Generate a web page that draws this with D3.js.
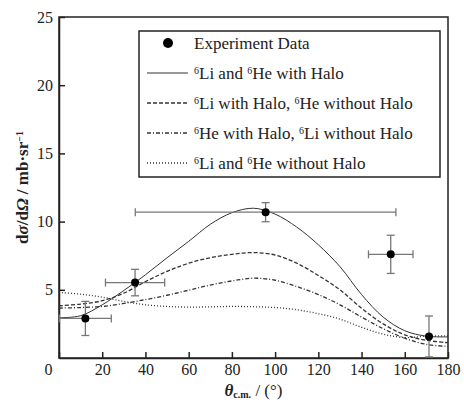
<!DOCTYPE html>
<meta charset="utf-8">
<style>
body { margin: 0; background: #fff; }
text { fill: #222; }
.axis path, .axis line { stroke: #222; stroke-width: 1.5px; }
</style>
<svg width="464" height="402"></svg>
<script src="https://cdn.jsdelivr.net/npm/d3@7"></script>
<script>

// angle grid of the calculated curves
var theta = [0, 10, 20, 30, 40, 50, 60, 70, 80, 90, 100, 110, 120, 130, 140, 150, 160, 170, 180];

var bothHalo   = [2.95, 3.1, 3.9, 4.95, 6.1, 7.35, 8.55, 9.8, 10.65, 10.98, 10.55, 9.6, 8.3, 6.7, 4.65, 3.0, 2.0, 1.6, 1.55];
var liHalo     = [3.83, 3.95, 4.2, 4.75, 5.6, 6.35, 6.95, 7.35, 7.6, 7.73, 7.55, 6.95, 6.05, 5.0, 3.65, 2.5, 1.7, 1.3, 1.12];
var heHalo     = [3.66, 3.7, 3.78, 4.0, 4.28, 4.6, 4.97, 5.35, 5.65, 5.85, 5.7, 5.24, 4.65, 3.9, 3.0, 2.15, 1.45, 1.0, 0.85];
var noHalo     = [4.8, 4.68, 4.46, 4.15, 3.9, 3.78, 3.73, 3.75, 3.78, 3.76, 3.7, 3.54, 3.25, 2.85, 2.25, 1.75, 1.5, 1.6, 1.62];

// experiment
var expTheta = [12.2, 35.2, 95.6, 153.5, 171.2];
var expVal   = [2.9, 5.53, 10.69, 7.6, 1.58];
var expXerr  = [12, 13.7, 60.3, 10.3, 0];
var expYerr  = [1.25, 0.97, 0.7, 1.4, 1.5];

var legendLabels = [
  [["", "Experiment Data"]],
  [["6", "Li and "], ["6", "He with Halo"]],
  [["6", "Li with Halo, "], ["6", "He without Halo"]],
  [["6", "He with Halo, "], ["6", "Li without Halo"]],
  [["6", "Li and "], ["6", "He without Halo"]]
];
var dashes = [null, null, "4,2", "4,2,1,2", "1,2"];
var font = '"Liberation Serif", "DejaVu Serif", "Times New Roman", serif';

var svg = d3.select("svg"),
    margin = {top: 17, right: 16, bottom: 44, left: 59},
    width = +svg.attr("width") - margin.left - margin.right,
    height = +svg.attr("height") - margin.top - margin.bottom;

var g = svg.append("g").attr("transform", "translate(" + margin.left + "," + margin.top + ")");

var x = d3.scaleLinear().domain([0, 180]).range([0, width]);
var y = d3.scaleLinear().domain([0, 25]).range([height, 0]);

// axes, ticks pointing inward
var xAxis = g.append("g")
    .attr("class", "axis")
    .attr("transform", "translate(0," + height + ")")
    .call(d3.axisBottom(x).tickValues(d3.range(0, 181, 20)).tickSize(-6).tickPadding(6).tickSizeOuter(0));
xAxis.selectAll(".tick").filter(function(d) { return d === 0; }).select("text").attr("dx", -11);

g.append("g")
    .attr("class", "axis")
    .call(d3.axisLeft(y).tickValues([5, 10, 15, 20, 25]).tickSize(-6).tickPadding(6).tickSizeOuter(0));

svg.selectAll(".axis").attr("font-family", font).attr("font-size", 16);

g.append("rect")
    .attr("width", width).attr("height", height)
    .attr("fill", "none").attr("stroke", "#222").attr("stroke-width", 1.5);

// curves
var line = d3.line()
    .x(function(d) { return x(d[0]); })
    .y(function(d) { return y(d[1]); })
    .curve(d3.curveCatmullRom);

[bothHalo, liHalo, heHalo, noHalo].forEach(function(s, i) {
  g.append("path")
      .datum(theta.map(function(t, j) { return [t, s[j]]; }))
      .attr("d", line)
      .attr("fill", "none")
      .attr("stroke", "#333")
      .attr("stroke-width", i == 0 ? 1 : 1.3)
      .attr("stroke-dasharray", dashes[i + 1]);
});

// error bars + points
var pts = expTheta.map(function(t, i) {
  return {t: t, v: expVal[i], dx: expXerr[i], dy: expYerr[i]};
});
var eb = g.append("g").attr("stroke", "#777").attr("stroke-width", 1.3);
pts.forEach(function(p) {
  var cx = x(p.t), cy = y(p.v);
  eb.append("line").attr("x1", cx).attr("x2", cx).attr("y1", y(p.v - p.dy)).attr("y2", y(p.v + p.dy));
  eb.append("line").attr("x1", cx - 4).attr("x2", cx + 4).attr("y1", y(p.v - p.dy)).attr("y2", y(p.v - p.dy));
  eb.append("line").attr("x1", cx - 4).attr("x2", cx + 4).attr("y1", y(p.v + p.dy)).attr("y2", y(p.v + p.dy));
  if (p.dx > 0) {
    eb.append("line").attr("x1", x(p.t - p.dx)).attr("x2", x(p.t + p.dx)).attr("y1", cy).attr("y2", cy);
    eb.append("line").attr("x1", x(p.t - p.dx)).attr("x2", x(p.t - p.dx)).attr("y1", cy - 4).attr("y2", cy + 4);
    eb.append("line").attr("x1", x(p.t + p.dx)).attr("x2", x(p.t + p.dx)).attr("y1", cy - 4).attr("y2", cy + 4);
  }
});
g.selectAll(".pt")
  .data(pts)
  .enter().append("circle")
    .attr("class", "pt")
    .attr("cx", function(d) { return x(d.t); })
    .attr("cy", function(d) { return y(d.v); })
    .attr("r", 4)
    .attr("fill", "#000");

// legend
var leg = svg.append("g").attr("transform", "translate(139,31)");
leg.append("rect")
    .attr("width", 301).attr("height", 146)
    .attr("fill", "#fff").attr("stroke", "#222").attr("stroke-width", 1.5);

legendLabels.forEach(function(parts, i) {
  var ly = 12 + i * 30;
  if (i == 0) {
    leg.append("circle").attr("cx", 29).attr("cy", ly).attr("r", 5).attr("fill", "#000");
  } else {
    leg.append("line")
        .attr("x1", 8).attr("x2", 49).attr("y1", ly).attr("y2", ly)
        .attr("stroke", "#333").attr("stroke-width", i == 1 ? 1 : 1.3)
        .attr("stroke-dasharray", dashes[i]);
  }
  var t = leg.append("text").attr("x", 55).attr("y", ly + 6)
      .attr("font-family", font).style("font-size", "17px");
  parts.forEach(function(p) {
    if (p[0]) t.append("tspan").attr("baseline-shift", "super").style("font-size", "10px").text(p[0]);
    t.append("tspan").text(p[1]);
  });
});

// axis titles
var yl = svg.append("text")
    .attr("transform", "translate(28," + (margin.top + height / 2) + ") rotate(-90)")
    .attr("text-anchor", "middle")
    .attr("font-family", font)
    .style("font-size", "17px")
    .style("font-weight", "bold");
yl.append("tspan").text("d");
yl.append("tspan").style("font-style", "italic").text("σ");
yl.append("tspan").text("/d");
yl.append("tspan").style("font-style", "italic").text("Ω");
yl.append("tspan").text(" / mb·sr");
yl.append("tspan").attr("baseline-shift", "super").style("font-size", "10px").text("−1");

var xl = svg.append("text")
    .attr("x", margin.left + width / 2)
    .attr("y", 396)
    .attr("text-anchor", "middle")
    .attr("font-family", font)
    .style("font-size", "17px");
xl.append("tspan").style("font-style", "italic").style("font-weight", "bold").style("font-size", "17px").text("θ");
xl.append("tspan").attr("dy", 2).style("font-size", "10px").style("font-weight", "bold").text("c.m.");
xl.append("tspan").attr("dy", -2).text(" / (°)");

</script>
